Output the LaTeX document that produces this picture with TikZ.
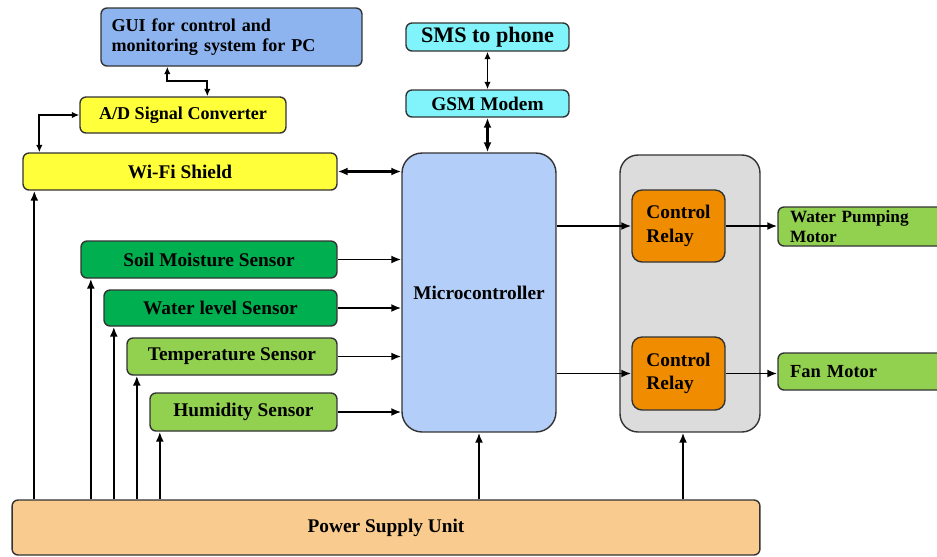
\documentclass[tikz,border=0pt]{standalone}
\usepackage{fontspec}
\setmainfont{Liberation Serif}
\usetikzlibrary{arrows.meta}

\newcommand{\lbl}{\fontsize{11}{12.5}\selectfont\bfseries}
\newcommand{\lblsm}{\fontsize{10.3}{11.5}\selectfont\bfseries}
\definecolor{guiblue}{HTML}{8EB4F0}
\definecolor{mcublue}{HTML}{B3CEF8}
\definecolor{shieldyel}{HTML}{FFFF3A}
\definecolor{gsmcyan}{HTML}{80F4FA}
\definecolor{relayorg}{HTML}{F08C00}
\definecolor{darkgrn}{HTML}{00B050}
\definecolor{lightgrn}{HTML}{92D050}
\definecolor{psupeach}{HTML}{FACB8E}
\definecolor{boxgray}{HTML}{DCDCDC}

\begin{document}
\begin{tikzpicture}[x=0.02cm, y=-0.02cm,
    blk/.style={draw=black!80, line width=0.8pt, rounded corners=0.12cm, inner sep=0pt, font=\lbl},
    arr/.style={-{Latex[length=2mm,width=1.6mm]}, line width=1.1pt},
    darr/.style={{Latex[length=2mm,width=1.6mm]}-{Latex[length=2mm,width=1.6mm]}, line width=1.1pt},
    tarr/.style={{Latex[length=1.5mm,width=1.3mm]}-{Latex[length=1.5mm,width=1.3mm]}, line width=1pt}]
      \useasboundingbox (0,0) rectangle (937,556);
      % PC side
      \node[blk, fill=guiblue, minimum width=5.22cm, minimum height=1.16cm, text width=4.8cm, align=left, font=\lblsm] (gui) at (231.5,37) {GUI for control and\\monitoring system for PC};
      \node[blk, fill=shieldyel, minimum width=4.12cm, minimum height=0.72cm, font=\lblsm] (ad) at (183,115) {A/D Signal Converter};
      \node[blk, fill=shieldyel, minimum width=6.28cm, minimum height=0.74cm] (wifi) at (180,171.5) {Wi-Fi Shield};
      % GSM side
      \node[blk, fill=gsmcyan, minimum width=3.26cm, minimum height=0.56cm, font=\fontsize{12.6}{14}\selectfont\bfseries] (sms) at (487.5,37) {SMS to phone};
      \node[blk, fill=gsmcyan, minimum width=3.26cm, minimum height=0.54cm] (gsm) at (487.5,103.5) {GSM Modem};
      \node[blk, fill=mcublue, rounded corners=0.4cm, minimum width=3.08cm, minimum height=5.58cm] (micro) at (479,292.5) {Microcontroller};
      % sensors
      \node[blk, fill=darkgrn, minimum width=5.12cm, minimum height=0.74cm] (soil) at (209,259.5) {Soil Moisture Sensor};
      \node[blk, fill=darkgrn, minimum width=4.66cm, minimum height=0.72cm] (water) at (220.5,308) {Water level Sensor};
      \node[blk, fill=lightgrn, minimum width=4.2cm, minimum height=0.74cm] (temp) at (232,356.5) {Temperature Sensor};
      \node[blk, fill=lightgrn, minimum width=3.74cm, minimum height=0.76cm] (hum) at (243.5,412) {Humidity Sensor};
      % relays and loads
      \node[blk, fill=boxgray, rounded corners=0.36cm, minimum width=2.8cm, minimum height=5.54cm] (relays) at (690,293.5) {};
      \node[blk, fill=relayorg, rounded corners=0.2cm, minimum width=1.86cm, minimum height=1.44cm, align=left, font=\fontsize{11}{13.5}\selectfont\bfseries] (relayA) at (678.5,226) {Control\\Relay};
      \node[blk, fill=relayorg, rounded corners=0.2cm, minimum width=1.86cm, minimum height=1.46cm, align=left, font=\fontsize{11}{13.5}\selectfont\bfseries] (relayB) at (678.5,373.5) {Control\\Relay};
      \node[blk, fill=lightgrn, minimum width=3.44cm, minimum height=0.78cm, inner xsep=0.24cm, text width=2.96cm, align=left, font=\fontsize{9.8}{11.3}\selectfont\bfseries] (pump) at (864,226.5) {Water Pumping\\Motor};
      \node[blk, fill=lightgrn, minimum width=3.44cm, minimum height=0.74cm, inner xsep=0.24cm, text width=2.96cm, align=left, font=\fontsize{10.5}{12}\selectfont\bfseries] (fan) at (864,371.5) {Fan Motor};
      \node[blk, fill=psupeach, minimum width=14.96cm, minimum height=1.1cm] (psu) at (386,527.5) {Power Supply Unit};
      % links
      \draw[tarr] ([xshift=1.34cm]gui.south west) -- ++(0,14) -| ([xshift=2.56cm]ad.north west);
      \draw[tarr] (ad.west) -| ([xshift=0.34cm]wifi.north west);
      \draw[darr, line width=1.6pt] (wifi.east) -- (wifi.east -| micro.west);
      \draw[tarr] (sms.south) -- (gsm.north);
      \draw[darr, line width=1.5pt] (gsm.south) -- (gsm.south |- micro.north);
      \foreach \s in {soil,water,temp,hum}
        \draw[arr] (\s.east) -- (\s.east -| micro.west);
      \draw[arr] (relayA.west -| micro.east) -- (relayA.west);
      \draw[arr] (relayB.west -| micro.east) -- (relayB.west);
      \draw[arr] (relayA.east) -- (relayA.east -| pump.west);
      \draw[arr] (relayB.east) -- (relayB.east -| fan.west);
      % power lines
      \draw[arr] ([xshift=0.24cm]wifi.south west |- psu.north) -- ([xshift=0.24cm]wifi.south west);
      \foreach \s in {soil,water,temp,hum}
        \draw[arr] ([xshift=0.21cm]\s.south west |- psu.north) -- ([xshift=0.21cm]\s.south west);
      \draw[arr] (micro.south |- psu.north) -- (micro.south);
      \draw[arr] ([xshift=-0.14cm]relays.south |- psu.north) -- ([xshift=-0.14cm]relays.south);
    \end{tikzpicture}
\end{document}
